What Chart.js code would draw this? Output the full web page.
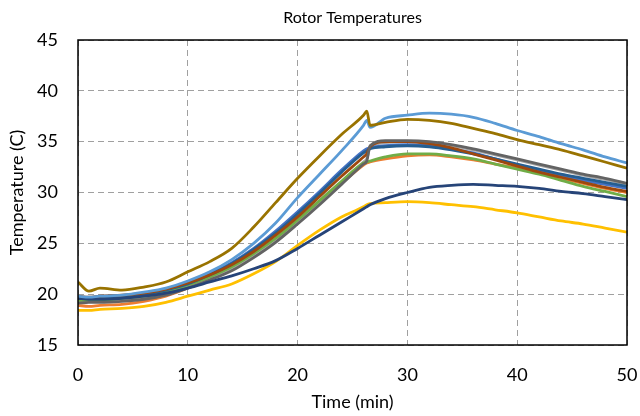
<!DOCTYPE html>
<html>
<head>
<meta charset="utf-8">
<script src="https://cdn.jsdelivr.net/npm/chart.js@4.4.1/dist/chart.umd.min.js"></script>
<style>
  html, body { margin: 0; padding: 0; background: #fff; }
</style>
</head>
<body>
<canvas id="rotorTemps" width="640" height="416"></canvas>
<script>
// time in minutes, shared by all rotor sensors
const times = [0, 1, 2, 4, 6, 8, 10, 12, 14, 16, 18, 20, 22, 24, 26, 26.3, 26.6, 28, 30, 32, 34, 36, 38, 40, 42, 44, 46, 48, 50];

// temperatures (C)
const gold = [21.2, 20.3, 20.6, 20.4, 20.7, 21.2, 22.2, 23.2, 24.5, 26.6, 29.0, 31.4, 33.6, 35.7, 37.6, 38.0, 36.6, 36.9, 37.2, 37.1, 36.8, 36.3, 35.8, 35.2, 34.7, 34.2, 33.6, 33.0, 32.4];
const lightBlue = [19.8, 19.7, 19.8, 19.9, 20.2, 20.6, 21.3, 22.2, 23.4, 25.0, 27.0, 29.5, 31.8, 34.1, 36.6, 37.1, 36.4, 37.3, 37.6, 37.8, 37.7, 37.4, 36.8, 36.1, 35.5, 34.8, 34.2, 33.5, 32.9];
const blue = [19.6, 19.6, 19.6, 19.8, 20.0, 20.4, 21.1, 22.0, 23.1, 24.5, 26.2, 28.1, 30.1, 32.2, 34.1, 34.3, 34.4, 34.6, 34.7, 34.6, 34.3, 33.9, 33.3, 32.7, 32.2, 31.7, 31.2, 30.8, 30.4];
const midBlue = [19.7, 19.6, 19.7, 19.8, 20.0, 20.4, 21.0, 21.9, 23.0, 24.4, 26.0, 27.9, 29.9, 32.0, 33.9, 34.1, 34.3, 34.5, 34.6, 34.5, 34.2, 33.8, 33.3, 32.8, 32.3, 31.8, 31.4, 31.0, 30.6];
const brown = [19.8, 19.7, 19.8, 19.9, 20.1, 20.5, 21.1, 21.9, 22.9, 24.2, 25.8, 27.6, 29.6, 31.6, 33.5, 33.8, 34.5, 35.0, 35.0, 34.8, 34.4, 33.8, 33.2, 32.6, 32.0, 31.5, 31.0, 30.5, 30.1];
const darkGray = [19.1, 19.2, 19.2, 19.3, 19.5, 19.9, 20.6, 21.4, 22.3, 23.6, 25.1, 26.9, 28.8, 30.8, 32.8, 33.1, 34.6, 35.1, 35.1, 35.0, 34.7, 34.3, 33.8, 33.3, 32.8, 32.3, 31.8, 31.4, 30.9];
const lightGray = [19.3, 19.3, 19.3, 19.4, 19.6, 20.0, 20.7, 21.5, 22.5, 23.8, 25.3, 27.1, 29.0, 31.0, 33.0, 33.3, 34.4, 34.9, 35.0, 34.9, 34.6, 34.2, 33.7, 33.2, 32.7, 32.2, 31.7, 31.3, 30.8];
const green = [19.4, 19.4, 19.4, 19.6, 19.8, 20.2, 20.9, 21.7, 22.7, 24.0, 25.5, 27.3, 29.2, 31.1, 32.9, 33.0, 33.1, 33.5, 33.8, 33.8, 33.6, 33.3, 32.8, 32.3, 31.8, 31.2, 30.6, 30.1, 29.6];
const orange = [18.9, 18.8, 18.9, 19.0, 19.3, 19.8, 20.6, 21.5, 22.5, 23.8, 25.3, 27.1, 29.0, 30.9, 32.7, 32.9, 33.0, 33.3, 33.6, 33.7, 33.5, 33.2, 32.8, 32.4, 31.9, 31.4, 30.9, 30.4, 30.0];
const navy = [19.6, 19.5, 19.5, 19.6, 19.8, 20.1, 20.6, 21.2, 21.8, 22.5, 23.3, 24.5, 25.8, 27.1, 28.4, 28.6, 28.8, 29.4, 30.0, 30.5, 30.7, 30.8, 30.7, 30.6, 30.4, 30.1, 29.9, 29.6, 29.3];
const yellow = [18.4, 18.4, 18.5, 18.6, 18.8, 19.2, 19.8, 20.4, 21.0, 22.0, 23.2, 24.8, 26.3, 27.6, 28.6, 28.8, 28.9, 29.0, 29.1, 29.0, 28.8, 28.6, 28.3, 28.0, 27.6, 27.2, 26.9, 26.5, 26.1];

// first one ends up drawn on top
const series = [
	{ name: "Rotor 10", values: gold, color: "#997300" },
	{ name: "Rotor 1", values: lightBlue, color: "#5B9BD5" },
	{ name: "Rotor 11", values: navy, color: "#264478" },
	{ name: "Rotor 4", values: yellow, color: "#FFC000" },
	{ name: "Rotor 9", values: darkGray, color: "#636363" },
	{ name: "Rotor 8", values: brown, color: "#9E480E" },
	{ name: "Rotor 7", values: midBlue, color: "#255E91" },
	{ name: "Rotor 6", values: green, color: "#70AD47" },
	{ name: "Rotor 5", values: blue, color: "#4472C4" },
	{ name: "Rotor 3", values: lightGray, color: "#A5A5A5" },
	{ name: "Rotor 2", values: orange, color: "#ED7D31" }
];

const chartTitle = "Rotor Temperatures";
const fontFamily = "Lato, 'Open Sans', sans-serif";

// black frame round the plot + title centred over the plot area
const plotFrame = {
	id: "plotFrame",
	afterDatasetsDraw(chart) {
		const { ctx, chartArea } = chart;
		ctx.save();
		ctx.strokeStyle = "#000";
		ctx.lineWidth = 1.5;
		ctx.strokeRect(chartArea.left, chartArea.top, chartArea.right - chartArea.left, chartArea.bottom - chartArea.top);
		ctx.fillStyle = "#000";
		ctx.font = "16px " + fontFamily;
		ctx.textAlign = "center";
		ctx.textBaseline = "middle";
		ctx.fillText(chartTitle, (chartArea.left + chartArea.right) / 2, 18);
		ctx.restore();
	}
};

const datasets = series.map(s => ({
	label: s.name,
	data: times.map((t, i) => ({ x: t, y: s.values[i] })),
	borderColor: s.color,
	backgroundColor: s.color,
	borderWidth: 2.8,
	pointRadius: 0,
	cubicInterpolationMode: "monotone",
	fill: false
}));

const ctx = document.getElementById("rotorTemps");
const chart = new Chart(ctx, {
	type: "line",
	data: { datasets: datasets },
	options: {
		responsive: false,
		animation: false,
		layout: { padding: { left: 0, right: 13, top: 40, bottom: 0 } },
		plugins: {
			legend: { display: false },
			tooltip: { enabled: false },
			title: { display: false }
		},
		scales: {
			x: {
				type: "linear",
				min: 0,
				max: 50,
				ticks: {
					stepSize: 10,
					color: "#000",
					padding: 19,
					font: { family: fontFamily, size: 18 }
				},
				grid: { color: "#A0A0A0", lineWidth: 1, drawTicks: false },
				border: { display: false, dash: [6, 4] },
				title: {
					display: true,
					text: "Time (min)",
					color: "#000",
					font: { family: fontFamily, size: 18 },
					padding: { top: 0, bottom: 3 }
				},
				afterFit(scale) {
					scale.height = 71;
					scale.paddingLeft = 0;
					scale.paddingRight = 0;
				}
			},
			y: {
				min: 15,
				max: 45,
				ticks: {
					stepSize: 5,
					color: "#000",
					padding: 20,
					font: { family: fontFamily, size: 18 }
				},
				grid: { color: "#A0A0A0", lineWidth: 1, drawTicks: false },
				border: { display: false, dash: [6, 4] },
				title: {
					display: true,
					text: "Temperature (C)",
					color: "#000",
					font: { family: fontFamily, size: 18 },
					padding: { top: 6, bottom: 0 }
				},
				afterFit(scale) {
					scale.width = 78;
					scale.paddingTop = 0;
					scale.paddingBottom = 0;
				}
			}
		}
	},
	plugins: [plotFrame]
});
</script>
</body>
</html>
